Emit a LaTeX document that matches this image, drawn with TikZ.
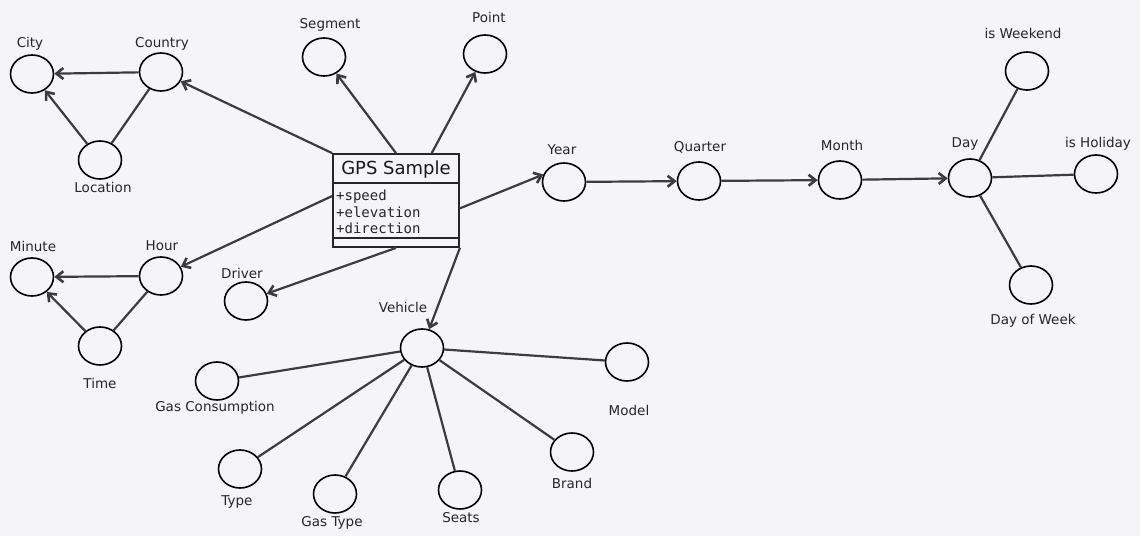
\documentclass[tikz,border=0pt]{standalone}
\usepackage{fontspec}
\setmainfont{DejaVu Sans}
\setmonofont{DejaVu Sans Mono}
\usetikzlibrary{shapes.geometric,arrows.meta,calc}
\definecolor{paper}{RGB}{245,245,249}
\definecolor{edgegray}{RGB}{60,60,60}

\begin{document}
\begin{tikzpicture}[x=1pt,y=-1pt,
  attr/.style={ellipse,draw=black,line width=1.6pt,minimum width=43pt,minimum height=38pt,inner sep=0pt},
  lbl/.style={font=\fontsize{13.5}{16}\selectfont,inner sep=0pt,text=black!85},
  link/.style={draw=edgegray,line width=2.2pt},
  rel/.style={link,-{Straight Barb[length=7pt,width=11pt,line width=2.6pt]}}]

\fill[paper] (0,0) rectangle (1140,536);
\useasboundingbox (0,0) rectangle (1140,536);

% ---- central class box ----
\node[draw=black!85,line width=1.8pt,minimum width=126pt,minimum height=93pt,inner sep=0pt] (gps) at (396,200.5) {};
\node[font=\fontsize{18}{20}\selectfont,inner sep=0pt,text=black!90] (gpstitle) at (396,169.5) {GPS Sample};
\draw[draw=black!85,line width=1.8pt] ($(gps.north west)+(0,30)$) -- ($(gps.north east)+(0,30)$);
\draw[draw=black!85,line width=1.8pt] ($(gps.north west)+(0,85)$) -- ($(gps.north east)+(0,85)$);
\node[anchor=west,align=left,inner sep=0pt,text=black!85,font=\ttfamily\fontsize{14}{16.5}\selectfont] (gpsattr) at (336,212) {+speed\\+elevation\\+direction};

% ---- attribute nodes ----
\node[attr] (city) at (32,74) {};
\node[attr] (country) at (161,72) {};
\node[attr] (location) at (100,160) {};
\node[attr] (segment) at (324,57) {};
\node[attr] (point) at (485,54) {};
\node[attr] (minute) at (32,277) {};
\node[attr] (hour) at (161,276) {};
\node[attr] (time) at (100,346) {};
\node[attr] (driver) at (246,301) {};
\node[attr] (vehicle) at (422,348) {};
\node[attr] (gascons) at (217,381) {};
\node[attr] (model) at (627,362) {};
\node[attr] (type) at (240,469) {};
\node[attr] (gastype) at (335,494) {};
\node[attr] (seats) at (460,490) {};
\node[attr] (brand) at (572,452) {};
\node[attr] (year) at (564,182) {};
\node[attr] (quarter) at (699,181) {};
\node[attr] (month) at (840,180) {};
\node[attr] (day) at (970,178) {};
\node[attr] (weekend) at (1027,71) {};
\node[attr] (holiday) at (1096,174) {};
\node[attr] (dow) at (1031,285) {};

% ---- labels ----
\node[lbl] (citylbl) at (30,44) {City};
\node[lbl] (countrylbl) at (162,44) {Country};
\node[lbl] (locationlbl) at (103,187) {Location};
\node[lbl] (segmentlbl) at (330,25) {Segment};
\node[lbl] (pointlbl) at (489,17) {Point};
\node[lbl] (minutelbl) at (33,246) {Minute};
\node[lbl] (hourlbl) at (162,246) {Hour};
\node[lbl] (timelbl) at (100,383) {Time};
\node[lbl] (driverlbl) at (242,273) {Driver};
\node[lbl] (vehiclelbl) at (403,307) {Vehicle};
\node[lbl] (gasconslbl) at (215,408) {Gas Consumption};
\node[lbl] (modellbl) at (629,410) {Model};
\node[lbl] (typelbl) at (237,502) {Type};
\node[lbl] (gastypelbl) at (332,523) {Gas Type};
\node[lbl] (seatslbl) at (461,518) {Seats};
\node[lbl] (brandlbl) at (572,483) {Brand};
\node[lbl] (yearlbl) at (562,150) {Year};
\node[lbl] (quarterlbl) at (700,147) {Quarter};
\node[lbl] (monthlbl) at (842,145) {Month};
\node[lbl] (daylbl) at (965,144) {Day};
\node[lbl] (weekendlbl) at (1023,33) {is Weekend};
\node[lbl] (holidaylbl) at (1098,144) {is Holiday};
\node[lbl] (dowlbl) at (1033,321) {Day of Week};

% ---- links from the class box ----
\draw[rel] (gps.north west) -- (country);
\draw[rel] (gps.north) -- (segment);
\draw[rel] (gps.53.8) -- (point);
\draw[rel] (gps.-7.7) -- (year.160);
\draw[rel] (gps.176) -- (hour);
\draw[rel] (gps.south) -- (driver);
\draw[rel] (gps.south east) -- (vehicle);

% ---- location hierarchy ----
\draw[rel] (country) -- (city);
\draw[rel] (location) -- (city);
\draw[link] (location) -- (country);

% ---- time hierarchy ----
\draw[rel] (hour) -- (minute);
\draw[rel] (time) -- (minute);
\draw[link] (time) -- (hour);

% ---- calendar hierarchy ----
\draw[rel] (year) -- (quarter);
\draw[rel] (quarter) -- (month);
\draw[rel] (month) -- (day);
\draw[link] (day) -- (weekend);
\draw[link] (day) -- (holiday);
\draw[link] (day) -- (dow);

% ---- vehicle attributes ----
\draw[link] (vehicle) -- (gascons);
\draw[link] (vehicle) -- (model);
\draw[link] (vehicle) -- (type);
\draw[link] (vehicle) -- (gastype);
\draw[link] (vehicle) -- (seats);
\draw[link] (vehicle) -- (brand);
\end{tikzpicture}
\end{document}
